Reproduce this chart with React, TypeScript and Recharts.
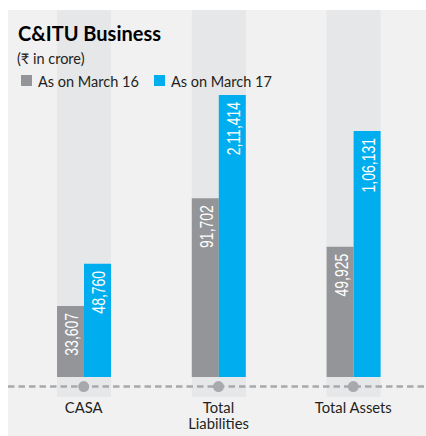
import React from 'react';
import { BarChart, Bar, XAxis, YAxis, ReferenceLine, ReferenceDot, LabelList } from 'recharts';

// Categories (two unnamed spacer columns sit between the three groups)
const categories = ['CASA', 'gap1', 'Total Liabilities', 'gap2', 'Total Assets'];
const tickLabels: string[][] = [['CASA'], [], ['Total', 'Liabilities'], [], ['Total Assets']];
const mainCategories = ['CASA', 'Total Liabilities', 'Total Assets'];

// Printed values (₹ in crore)
const march16Labels: (string | null)[] = ['33,607', null, '91,702', null, '49,925'];
const march17Labels: (string | null)[] = ['48,760', null, '2,11,414', null, '1,06,131'];

// Drawn bar lengths (tallest bar = 100)
const march16Length: (number | null)[] = [25.2, null, 63.4, null, 46.2];
const march17Length: (number | null)[] = [40.1, null, 100, null, 87.2];

const seriesNames = ['As on March 16', 'As on March 17'];
const colors = ['#939598', '#00aeef'];

const data = categories.map((c, i) => ({
  category: c,
  m16: march16Length[i],
  m17: march17Length[i],
  l16: march16Labels[i],
  l17: march17Labels[i],
}));

const FONT = "Lato, 'Noto Sans', 'DejaVu Sans', sans-serif";
const NUM_FONT = "'Liberation Sans', Arial, sans-serif";

const ValueLabel = (props: any) => {
  const { x, y, width, value } = props;
  if (value === null || value === undefined || value === '') return null;
  const cx = Number(x) + Number(width) / 2;
  const ty = Number(y) + 7;
  return (
    <text
      x={0}
      y={0}
      dy={7.5}
      transform={`translate(${cx} ${ty}) rotate(-90) scale(0.8 1)`}
      textAnchor="end"
      fill="#ffffff"
      fontSize={17.5}
      fontFamily={NUM_FONT}
    >
      {value}
    </text>
  );
};

const CategoryTick = (props: any) => {
  const { x, y, index } = props;
  const lines = tickLabels[index] || [];
  if (!lines.length) return null;
  return (
    <text x={x} y={y} textAnchor="middle" fill="#231f20" fontSize={14.8} fontFamily={FONT}>
      {lines.map((l, i) => (
        <tspan key={i} x={x} y={y + 16 + i * 16}>
          {l}
        </tspan>
      ))}
    </text>
  );
};

export default function App() {
  return (
    <div
      style={{
        position: 'fixed',
        left: 8,
        top: 10,
        width: 418,
        height: 426,
        background: '#f1f1f2',
      }}
    >
      <BarChart
        width={418}
        height={426}
        data={data}
        margin={{ top: 0, right: 0, bottom: 0, left: 0 }}
        barGap={0}
        barSize={27}
      >
        <XAxis
          dataKey="category"
          axisLine={false}
          tickLine={false}
          tickSize={0}
          tickMargin={0}
          interval={0}
          height={39}
          padding={{ left: 42, right: 39 }}
          tick={<CategoryTick />}
        />
        <YAxis hide domain={[-7.1, 130.1]} />
        <Bar
          dataKey="m16"
          name={seriesNames[0]}
          fill={colors[0]}
          background={{ fill: '#e6e7e8' }}
          isAnimationActive={false}
        >
          <LabelList dataKey="l16" content={<ValueLabel />} />
        </Bar>
        <Bar
          dataKey="m17"
          name={seriesNames[1]}
          fill={colors[1]}
          background={{ fill: '#e6e7e8' }}
          isAnimationActive={false}
        >
          <LabelList dataKey="l17" content={<ValueLabel />} />
        </Bar>
        <ReferenceLine y={-3.4} stroke="#a7a9ac" strokeWidth={2.5} strokeDasharray="6.5 4" />
        {mainCategories.map((c) => (
          <ReferenceDot key={c} x={c} y={-3.4} r={5.5} fill="#a7a9ac" stroke="none" />
        ))}
      </BarChart>
      <svg
        width={418}
        height={100}
        style={{ position: 'absolute', left: 0, top: 0, pointerEvents: 'none' }}
      >
        <text x={10} y={31} fontFamily={FONT} fontWeight={700} fontSize={20} fill="#000000">
          C&amp;ITU Business
        </text>
        <text x={9} y={53.5} fontFamily={FONT} fontSize={14.5} fill="#231f20">
          (₹ in crore)
        </text>
        {seriesNames.map((name, i) => {
          const sx = i === 0 ? 13 : 146;
          return (
            <g key={name}>
              <rect x={sx} y={65} width={11} height={11} fill={colors[i]} />
              <text x={sx + 17} y={76.5} fontFamily={FONT} fontSize={14.5} fill="#231f20">
                {name}
              </text>
            </g>
          );
        })}
      </svg>
    </div>
  );
}
